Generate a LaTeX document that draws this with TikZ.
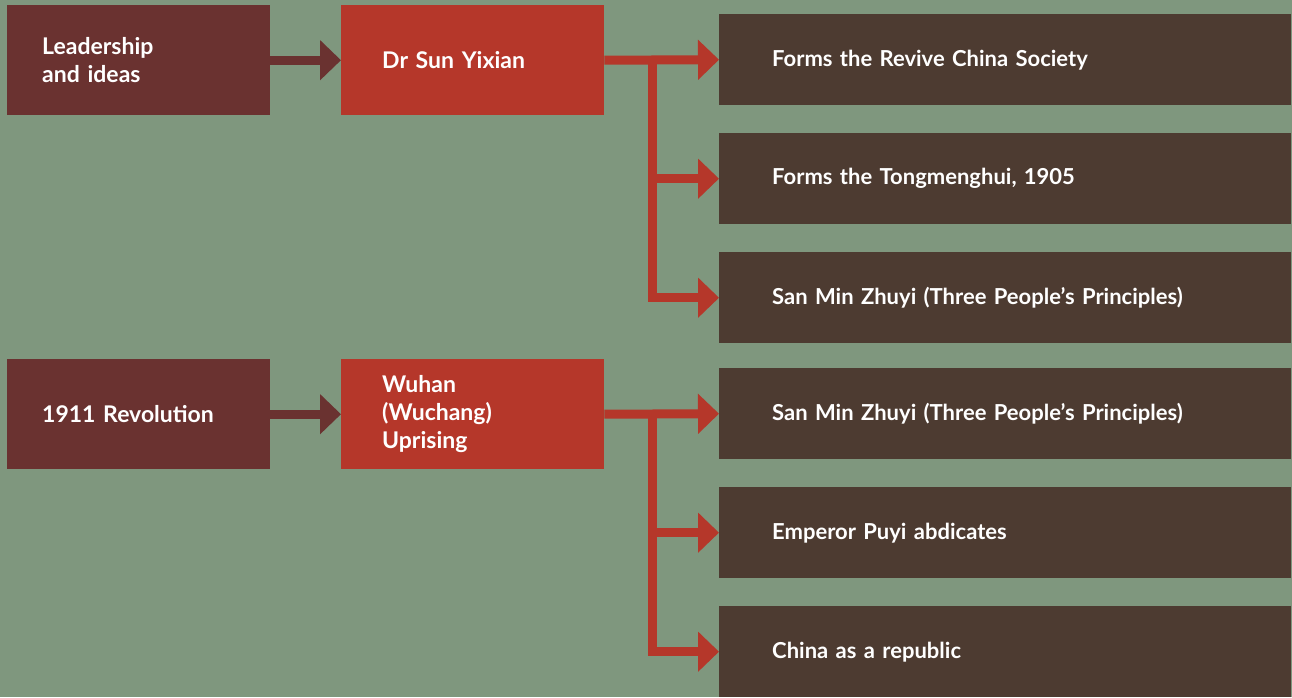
\documentclass[tikz,border=0pt]{standalone}
\usepackage{fontspec}
\setmainfont{Lato}
\usetikzlibrary{arrows.meta}
\definecolor{bg}{HTML}{7F977E}
\definecolor{maroonbox}{HTML}{6A3230}
\definecolor{brickbox}{HTML}{B5372A}
\definecolor{brownbox}{HTML}{4D3B31}
\begin{document}
\begin{tikzpicture}[x=1pt,y=-1pt,
  box/.style={rectangle, anchor=north west, inner ysep=0pt, text=white, align=left,
    font=\bfseries\fontsize{23}{28}\selectfont},
  leftbox/.style={box, fill=maroonbox, minimum width=263pt, minimum height=110pt, inner xsep=35pt, text width=193pt},
  midbox/.style={box, fill=brickbox, minimum width=263pt, minimum height=110pt, inner xsep=41pt, text width=181pt},
  rightbox/.style={box, fill=brownbox, minimum width=572pt, minimum height=91pt, inner xsep=53pt, text width=466pt,
    font=\bfseries\fontsize{22}{28}\selectfont},
  darkconn/.style={draw=maroonbox, line width=9pt, -{Triangle[length=21pt,width=39pt]}},
  redconn/.style={draw=brickbox, line width=9pt, -{Triangle[length=21pt,width=39pt]}}]
\fill[bg] (0,0) rectangle (1292,697);
\useasboundingbox (0,0) rectangle (1292,697);

\node[leftbox] (lead) at (7,5) {Leadership\\and ideas};
\node[midbox] (sun) at (341,5) {Dr Sun Yixian};
\node[rightbox] (r1) at (719,14) {Forms the Revive China Society};
\node[rightbox] (r2) at (719,133) {Forms the Tongmenghui, 1905};
\node[rightbox] (r3) at (719,252) {San Min Zhuyi (Three People’s Principles)};

\node[leftbox] (rev) at (7,359) {1911 Revolution};
\node[midbox] (wuhan) at (341,359) {Wuhan\\(Wuchang)\\Uprising};
\node[rightbox] (r4) at (719,368) {San Min Zhuyi (Three People’s Principles)};
\node[rightbox] (r5) at (719,487) {Emperor Puyi abdicates};
\node[rightbox] (r6) at (719,606) {China as a republic};

\draw[darkconn] (lead.east) -- (sun.west);
\draw[darkconn] (rev.east) -- (wuhan.west);

\coordinate (j1) at (652,59.5);
\coordinate (j2) at (652,413.5);
\draw[redconn] (sun.east) -- (r1.west);
\draw[redconn] (j1) |- (r2.west);
\draw[redconn] (j1) |- (r3.west);
\draw[redconn] (wuhan.east) -- (r4.west);
\draw[redconn] (j2) |- (r5.west);
\draw[redconn] (j2) |- (r6.west);
\end{tikzpicture}
\end{document}
